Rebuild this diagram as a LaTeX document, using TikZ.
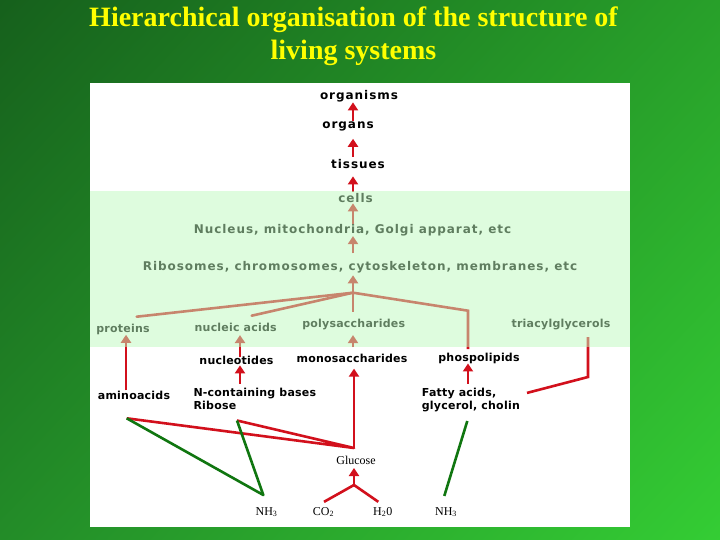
\documentclass[tikz,border=0pt]{standalone}
\usepackage{fontspec}
\setmainfont{Liberation Serif}
\newfontfamily\upfont[LetterSpace=8]{DejaVu Sans}
\newfontfamily\lowfont[LetterSpace=2]{DejaVu Sans}
\usetikzlibrary{arrows.meta,shadings}
\definecolor{bgtl}{RGB}{22,96,28}
\definecolor{bgtr}{RGB}{40,160,42}
\definecolor{bgbl}{RGB}{35,140,40}
\definecolor{bgbr}{RGB}{52,205,52}
\definecolor{ttl}{RGB}{255,255,0}
\definecolor{myred}{RGB}{210,16,28}
\definecolor{mygreen}{RGB}{16,118,16}
\definecolor{bandcol}{RGB}{190,250,190}
\begin{document}
\begin{tikzpicture}[x=1pt,y=-1pt,
  up/.style={font=\upfont\bfseries\fontsize{12}{14}\selectfont, inner sep=0pt, anchor=base},
  low/.style={font=\lowfont\bfseries\fontsize{11}{14}\selectfont, inner sep=0pt, anchor=base},
  lowml/.style={font=\lowfont\bfseries\fontsize{11}{13.7}\selectfont, inner sep=0pt, anchor=north west, align=left},
  chem/.style={font=\fontsize{12}{14}\selectfont, inner sep=0pt, anchor=base},
  redline/.style={draw=myred, line width=2.6pt},
  arr/.style={redline, -{Triangle[width=10pt,length=8pt]}},
  grline/.style={draw=mygreen, line width=2.6pt}]
\useasboundingbox (0,0) rectangle (720,540);
\shade[upper left=bgtl, upper right=bgtr, lower left=bgbl, lower right=bgbr] (0,0) rectangle (720,540);
\fill[white] (90,83) rectangle (630,527);
% title
\node[font=\fontsize{28}{33}\selectfont\bfseries, text=ttl, align=center, inner sep=0pt, anchor=north] (title) at (353.5,7)
  {Hierarchical organisation of the structure of\\living systems};
% upper chain
\coordinate (ax) at (353,0);
\node[up] (organisms) at (359,99.6) {organisms};
\node[up] (organs) at (348,128.3) {organs};
\node[up] (tissues) at (358,169) {tissues};
\node[up] (cells) at (355.5,203) {cells};
\node[up] (nucleus) at (352.5,233.3) {Nucleus, mitochondria, Golgi apparat, etc};
\node[up] (ribo) at (360,270.5) {Ribosomes, chromosomes, cytoskeleton, membranes, etc};
% macromolecules
\node[low] (proteins) at (123,332.3) {proteins};
\node[low] (nucleic) at (235.7,331.7) {nucleic acids};
\node[low] (polys) at (353.7,327.7) {polysaccharides};
\node[low] (triacyl) at (561,327.7) {triacylglycerols};
\node[low] (nucleotides) at (236.5,364) {nucleotides};
\node[low] (monos) at (352,362.3) {monosaccharides};
\node[low] (phospho) at (479,361) {phospolipids};
\node[low] (amino) at (134,399) {aminoacids};
\node[lowml] (nbases) at (193.3,387.5) {N-containing bases\\Ribose};
\node[lowml] (fatty) at (421.7,387.5) {Fatty acids,\\glycerol, cholin};
% small molecules
\node[chem] (glucose) at (356,464.3) {Glucose};
\node[chem] (nh3a) at (266.5,515) {NH\textsubscript{3}};
\node[chem] (co2) at (323.5,515) {CO\textsubscript{2}};
\node[chem] (h2o) at (382.7,515) {H\textsubscript{2}0};
\node[chem] (nh3b) at (446,515) {NH\textsubscript{3}};
% upper arrows
\draw[arr] (organs.north -| ax) -- (organisms.south -| ax);
\draw[arr, shorten <=2.9pt, shorten >=7.7pt] (tissues.north -| ax) -- (organs.south -| ax);
\draw[arr, shorten <=2pt, shorten >=7pt] (cells.north -| ax) -- (tissues.south -| ax);
\draw[arr] (nucleus.north -| ax) -- (cells.south -| ax);
\draw[arr, shorten <=7.9pt] (ribo.north -| ax) -- (nucleus.south -| ax);
% hub of macromolecules
\coordinate (hub) at (353,292.7);
\coordinate (phx) at (468,0);
\draw[arr, shorten >=2pt] (hub) -- (ribo.south -| ax);
\draw[redline, line cap=round] ([shift={(13.7,-15.6)}]proteins.base) -- (hub);
\draw[redline, line cap=round] ([shift={(16,-16)}]nucleic.base) -- (hub);
\draw[redline, shorten <=7.3pt] (polys.north -| ax) -- (hub);
\draw[redline] (hub) -- (468,310.7) -- ([yshift=3.4pt]phospho.north -| phx);
\draw[redline] ([yshift=-6.8pt]triacyl.south -| 588,0) -- (588,377) -- ([shift={(7,-7)}]fatty.east);
% lower arrows
\coordinate (px) at (126,0);
\coordinate (nx) at (240,0);
\draw[arr] (amino.north -| px) -- (proteins.south -| px);
\draw[arr, shorten <=-2pt, shorten >=3pt] (nucleotides.north -| nx) -- (nucleic.south -| nx);
\draw[arr, shorten <=4pt, shorten >=1pt] (nbases.north -| nx) -- (nucleotides.south -| nx);
\draw[arr, shorten <=6.7pt, shorten >=4.8pt] (monos.north -| ax) -- (polys.south -| ax);
\draw[arr, shorten <=4pt] (fatty.north -| phx) -- (phospho.south -| phx);
% glucose routes
\coordinate (gj) at (354,448);
\coordinate (aa) at (126.7,418.3);
\coordinate (nb) at (237,420.5);
\coordinate (cj) at (354,485);
\draw[arr, shorten >=6pt] (gj) -- (monos.south -| gj);
\draw[redline, line join=round] (aa) -- (gj) -- (nb);
\draw[arr, shorten >=3.4pt] (cj) -- (glucose.south -| cj);
\draw[redline] (cj) -- ([shift={(0.5,-5)}]co2.north);
\draw[redline] (cj) -- ([shift={(-4.4,-5)}]h2o.north);
% nitrogen routes
\coordinate (nh) at (263.3,495);
\draw[grline, line join=round] (aa) -- (nh) -- (nb);
\draw[grline] ([shift={(-1.7,-11)}]nh3b.north) -- (467.3,421);
% translucent band
\fill[bandcol, fill opacity=0.5] (90,191) rectangle (630,347);
\end{tikzpicture}
\end{document}
